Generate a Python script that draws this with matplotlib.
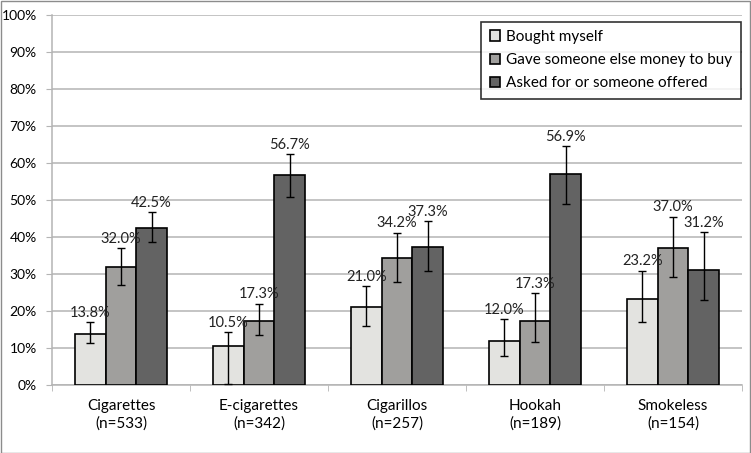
import numpy as np
import matplotlib
matplotlib.use("Agg")
import matplotlib.pyplot as plt
from matplotlib.patches import Rectangle
from matplotlib.ticker import PercentFormatter, MultipleLocator, FixedLocator

plt.rcParams['font.family'] = ['Lato', 'DejaVu Sans']

categories = ['Cigarettes\n(n=533)', 'E-cigarettes\n(n=342)', 'Cigarillos\n(n=257)',
              'Hookah\n(n=189)', 'Smokeless\n(n=154)']
series = ['Bought myself', 'Gave someone else money to buy', 'Asked for or someone offered']

bought = [13.8, 10.5, 21.0, 12.0, 23.2]
gave = [32.0, 17.3, 34.2, 17.3, 37.0]
asked = [42.5, 56.7, 37.3, 56.9, 31.2]

# 95% CI
bought_lo = [11.3, 0.3, 16.0, 7.8, 16.9]
bought_hi = [17.0, 14.2, 26.8, 17.9, 30.9]
gave_lo = [27.0, 13.5, 27.9, 11.6, 29.3]
gave_hi = [37.0, 22.0, 41.2, 24.9, 45.5]
asked_lo = [38.6, 50.9, 30.9, 49.0, 23.0]
asked_hi = [46.8, 62.4, 44.3, 64.6, 41.3]

colors = ['#e3e3e0', '#a09f9d', '#636363']
axis_gray = '#b4b4b4'

vals = [bought, gave, asked]
los = [bought_lo, gave_lo, asked_lo]
his = [bought_hi, gave_hi, asked_hi]

fig = plt.figure(figsize=(7.51, 4.53), dpi=100)
ax = fig.add_axes([52 / 751, 68 / 453, 690 / 751, 370 / 453])

x = np.arange(len(categories))
w = 0.222
for i in range(3):
    v = np.array(vals[i])
    lo = np.array(los[i])
    hi = np.array(his[i])
    xp = x + (i - 1) * w
    ax.bar(xp, v, w, color=colors[i], edgecolor='black', linewidth=1.2,
           label=series[i], zorder=3)
    ax.errorbar(xp, v, yerr=[v - lo, hi - v], fmt='none', ecolor='black',
                elinewidth=1, capsize=3, capthick=1, zorder=4)
    for xx, vv, hh in zip(xp, v, hi):
        ax.text(xx, hh + 0.6, f'{vv:.1f}%', ha='center', va='bottom',
                fontsize=10.5, color='#222222', zorder=5)

ax.set_xlim(-0.5, len(categories) - 0.5)
ax.set_ylim(0, 100)
ax.yaxis.set_major_locator(MultipleLocator(10))
ax.yaxis.set_major_formatter(PercentFormatter(decimals=0))
ax.set_xticks(x)
ax.set_xticklabels(categories, fontsize=11, linespacing=1.35)
ax.xaxis.set_minor_locator(FixedLocator(np.arange(len(categories) + 1) - 0.5))
ax.tick_params(axis='x', which='major', length=0, pad=10)
ax.tick_params(axis='x', which='minor', length=4, color=axis_gray, direction='out')
ax.tick_params(axis='y', labelsize=10, length=4, color=axis_gray,
               direction='out', pad=7)
ax.yaxis.grid(True, color=axis_gray, linewidth=1.1, zorder=0)
ax.set_axisbelow(True)
for s in ['top', 'right']:
    ax.spines[s].set_visible(False)
ax.spines['left'].set_color(axis_gray)
ax.spines['bottom'].set_color(axis_gray)
ax.spines['left'].set_linewidth(1.1)
ax.spines['bottom'].set_linewidth(1.1)

leg = ax.legend(loc='upper right', bbox_to_anchor=(0.9985, 0.982), frameon=True,
                fancybox=False, edgecolor='black', fontsize=11,
                handlelength=0.7, handleheight=0.7, handletextpad=0.4,
                borderpad=0.55, labelspacing=0.6, borderaxespad=0)
leg.get_frame().set_linewidth(1.2)

fig.patches.append(Rectangle((0.001, 0.001), 0.998, 0.997, transform=fig.transFigure,
                             fill=False, edgecolor='#8c8c8c', linewidth=1))

fig.savefig('out.png', dpi=100)
